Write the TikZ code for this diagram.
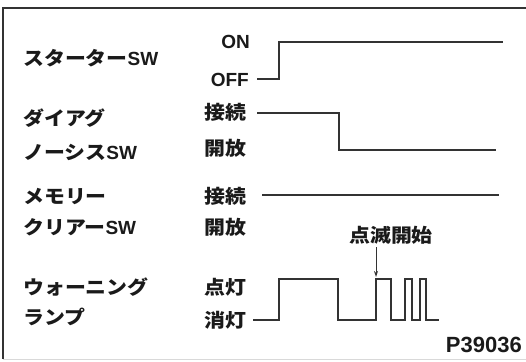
\documentclass[tikz,border=0pt]{standalone}
\usepackage{fontspec}
\setmainfont{Liberation Sans}
\newfontfamily\jp[FakeStretch=1.1]{Noto Sans CJK JP}
\usetikzlibrary{arrows.meta}
\definecolor{ln}{HTML}{333333}
\definecolor{tx}{HTML}{1a1a1a}
\tikzset{
  lbl/.style={anchor=west, inner sep=0pt, text=tx, font=\fontsize{19}{19}\selectfont\bfseries},
  lvl/.style={inner sep=0pt, text=tx, font=\fontsize{19}{19}\selectfont\bfseries},
  wave/.style={draw=ln, line width=1.3pt, line join=miter},
  frame/.style={draw=ln, line width=1.3pt},
}
\begin{document}
\begin{tikzpicture}[x=1pt,y=-1pt]
\useasboundingbox (0,0) rectangle (526,361);
% frame
\draw[frame] (526,8) -- (3,8) -- (3,359);
\draw[draw=black!15, line width=0.8pt] (3,359) -- (526,359);
% left labels
\node[lbl] (l1) at (23,58) {{\jp スターター}SW};
\node[lbl] (l2a) at (23,118) {\jp ダイアグ};
\node[lbl] (l2b) at (23,152) {{\jp ノーシス}SW};
\node[lbl] (l3a) at (23,196) {\jp メモリー};
\node[lbl] (l3b) at (23,227) {{\jp クリアー}SW};
\node[lbl] (l4a) at (23,287) {\jp ウォーニング};
\node[lbl] (l4b) at (23,317) {\jp ランプ};
% level labels
\node[lvl, anchor=east] (on) at (250,42) {ON};
\node[lvl, anchor=east] (off) at (249,80) {OFF};
\node[lvl, anchor=west] (c1) at (204,112) {\jp 接続};
\node[lvl, anchor=west] (o1) at (204,148) {\jp 開放};
\node[lvl, anchor=west] (c2) at (204,196) {\jp 接続};
\node[lvl, anchor=west] (o2) at (204,227) {\jp 開放};
\node[lvl, anchor=west] (hi) at (204,287) {\jp 点灯};
\node[lvl, anchor=west] (lo) at (204,320) {\jp 消灯};
% waveforms
\coordinate (s0) at (257,79);
\coordinate (s1) at (503,42);
\draw[wave] (s0) -- (279,79) -- (279,42) -- (s1);
\coordinate (d0) at (257,113);
\coordinate (d1) at (496,150);
\draw[wave] (d0) -- (339,113) -- (339,150) -- (d1);
\coordinate (m0) at (262,195);
\coordinate (m1) at (499,195);
\draw[wave] (m0) -- (m1);
\coordinate (w0) at (253,320);
\coordinate (w1) at (439,320);
\draw[wave] (w0) -- (279,320) -- (279,279) -- (338,279) -- (338,320)
  -- (376,320) -- (376,279) -- (391,279) -- (391,320)
  -- (405,320) -- (405,279) -- (412,279) -- (412,320)
  -- (420,320) -- (420,279) -- (426,279) -- (426,320) -- (w1);
% blink start
\node[inner sep=0pt, text=tx, font=\fontsize{19}{19}\selectfont\jp\bfseries] (blink) at (391,235) {点滅開始};
\coordinate (bt) at (376,277);
\draw[draw=ln, line width=1pt, -{Stealth[length=6pt,width=4pt]}] (376,247) -- (bt);
% figure number
\node[inner sep=0pt, anchor=east, text=tx, font=\fontsize{22}{22}\selectfont\bfseries] (pno) at (522,345) {P39036};
\end{tikzpicture}
\end{document}
